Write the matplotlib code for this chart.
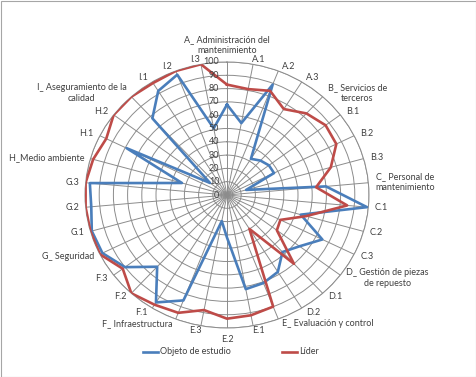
import numpy as np
import matplotlib.pyplot as plt
from matplotlib.lines import Line2D
from matplotlib.patches import Rectangle
from matplotlib.transforms import offset_copy

plt.rcParams['font.family'] = ['Lato', 'DejaVu Sans']

categorias = [
    'A_ Administración del\nmantenimiento', 'A.1', 'A.2', 'A.3',
    'B_ Servicios de\nterceros', 'B.1', 'B.2', 'B.3',
    'C_ Personal de\nmantenimiento', 'C.1', 'C.2', 'C.3',
    'D_ Gestión de piezas\nde repuesto', 'D.1', 'D.2',
    'E_ Evaluación y control', 'E.1', 'E.2', 'E.3',
    'F_ Infraestructura', 'F.1', 'F.2', 'F.3',
    'G_ Seguridad', 'G.1', 'G.2', 'G.3',
    'H_Medio ambiente', 'H.1', 'H.2',
    'I_ Aseguramiento de la\ncalidad', 'I.1', 'I.2', 'I.3',
]

objeto = [68, 55, 89, 32, 35, 37, 37, 14,
          70, 99, 54, 75, 64, 58, 68,
          71, 72, 32, 20, 85, 95, 73, 90,
          98, 99, 96, 97, 33, 79, 15,
          78, 92, 97, 51]

lider = [83, 81, 84, 76, 83, 87, 86, 76,
         63, 85, 58, 42, 44, 70, 30,
         90, 92, 93, 88, 95, 97, 100, 92,
         100, 100, 100, 100, 98, 95, 100,
         100, 99, 100, 100]

escala = list(range(0, 101, 10))

azul = '#4a7ebb'
rojo = '#be4b48'
gris = '#8c8c8c'
texto = '#404040'

n = len(categorias)
ang = np.arange(n) * 2 * np.pi / n
ang_c = np.append(ang, ang[0])

fig = plt.figure(figsize=(4.77, 3.77), dpi=100)
ax = fig.add_axes([85 / 477, 49 / 377, 284 / 477, 266 / 377], projection='polar')
ax.set_aspect('auto')
ax.set_theta_zero_location('N')
ax.set_theta_direction(-1)
ax.set_ylim(0, 100)

ax.set_xticks(ang)
ax.set_xticklabels([])
ax.set_yticks(escala[1:])
ax.set_yticklabels([])
ax.tick_params(length=0)
ax.grid(True, color=gris, lw=0.7)
ax.spines['polar'].set_color(gris)
ax.spines['polar'].set_linewidth(0.7)

ax.plot(ang_c, np.append(objeto, objeto[0]), color=azul, lw=1.9, zorder=3)
ax.plot(ang_c, np.append(lider, lider[0]), color=rojo, lw=1.9, zorder=3)

# etiquetas de categorias (desplazamientos en px, como Excel)
for i, (a, lab) in enumerate(zip(ang, categorias)):
    s, c = np.sin(a), np.cos(a)
    va = 'center'
    if abs(s) < 0.05:
        ha = 'center'
        dx = 0
        va = 'bottom' if c > 0 else 'top'
        dy = 7 * np.sign(c)
    elif abs(s) < 0.25:
        ha = 'center'
        dx = s * 30
        dy = 5 * c
    else:
        ha = 'left' if s > 0 else 'right'
        dx = np.sign(s) * (2 + 4.5 * abs(s))
        dy = 5 * c
    ax.annotate(lab, xy=(a, 100), xytext=(dx * 0.72, dy * 0.72),
                textcoords='offset points', ha=ha, va=va, fontsize=6.5,
                color=texto, multialignment='center', annotation_clip=False)

# escala del eje
tr = offset_copy(ax.transData, fig=fig, x=-5.5, y=0, units='points')
for v in escala:
    ax.text(0, v, str(v), transform=tr, ha='right', va='center',
            fontsize=6.5, color=texto)

# leyenda
yl = 1 - 352 / 377
fig.add_artist(Line2D([143 / 477, 158 / 477], [yl, yl], color=azul, lw=1.9))
fig.text(160 / 477, yl, 'Objeto de estudio', fontsize=6.5, color=texto, va='center')
fig.add_artist(Line2D([282 / 477, 297 / 477], [yl, yl], color=rojo, lw=1.9))
fig.text(299 / 477, yl, 'Líder', fontsize=6.5, color=texto, va='center')

fig.add_artist(Rectangle((0.5 / 477, 0.5 / 377), 1 - 1.5 / 477, 1 - 1.5 / 377,
                         transform=fig.transFigure, fill=False,
                         ec='#a6a6a6', lw=0.8))

fig.savefig('out.png', dpi=100)
